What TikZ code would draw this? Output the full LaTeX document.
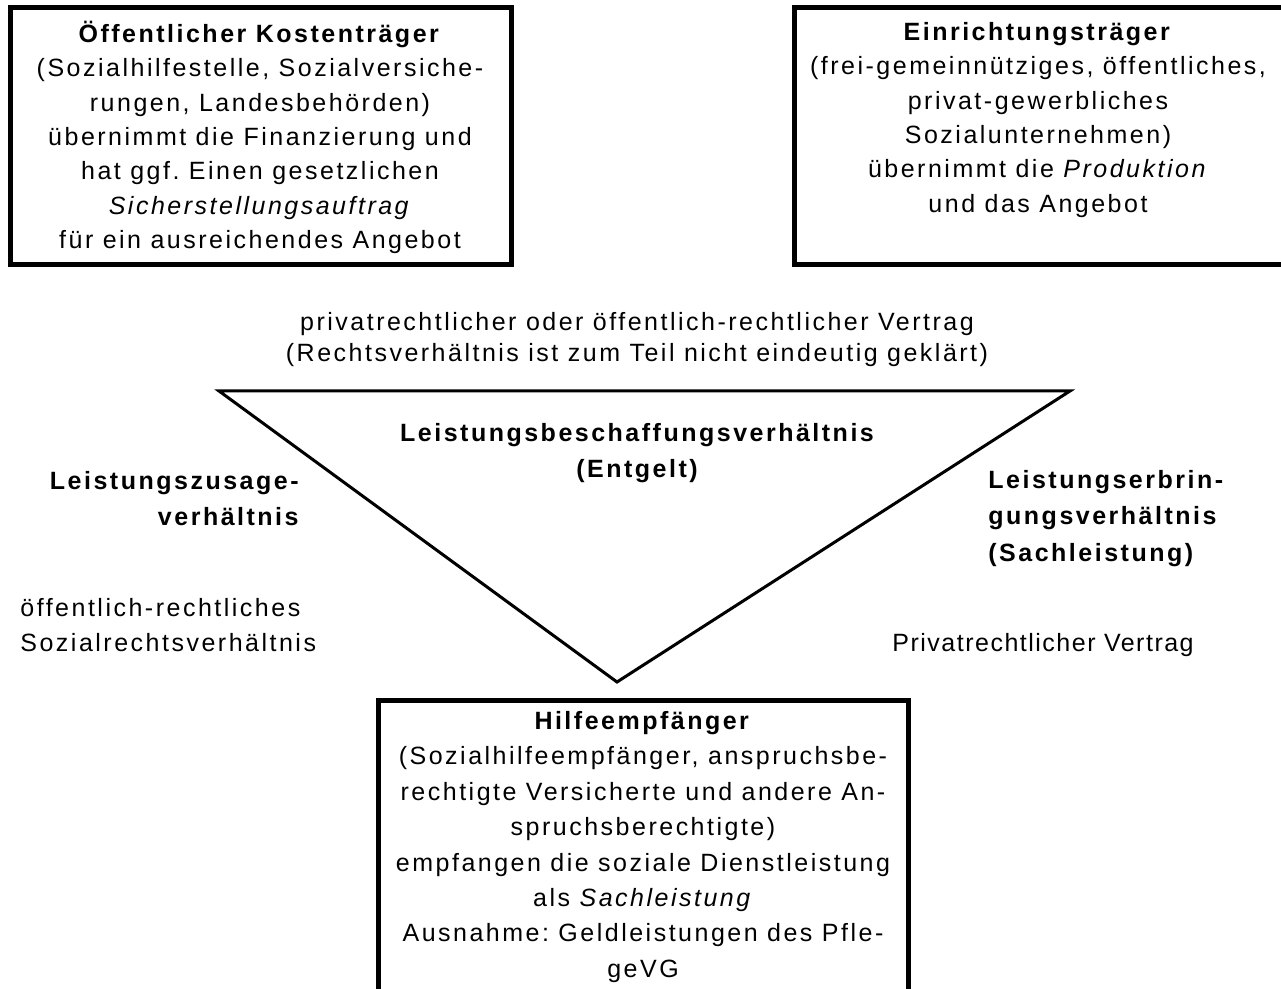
\documentclass[tikz,border=0pt]{standalone}
\usepackage{fontspec}
\setmainfont[LetterSpace=10]{Liberation Sans}
\newfontfamily\narrowfont[LetterSpace=6]{Liberation Sans}
\newcommand\topstrut{\rule{0pt}{12pt}}
\frenchspacing
\tikzset{
  boxline/.style={line width=2.5pt, line join=miter},
  triline/.style={line width=1.5pt, line join=miter},
  boxtxt/.style={inner sep=0pt, align=center, font=\frenchspacing\fontsize{12.5}{17.2}\selectfont},
  boxtxtb/.style={inner sep=0pt, align=center, font=\frenchspacing\fontsize{12.5}{17.7}\selectfont},
  midtxt/.style={inner sep=0pt, font=\frenchspacing\fontsize{12.5}{15.5}\selectfont},
  boldlab/.style={inner sep=0pt, font=\bfseries\fontsize{12.5}{18.25}\selectfont},
  plainlab/.style={inner sep=0pt, font=\fontsize{12.5}{17.5}\selectfont},
}
\begin{document}
\begin{tikzpicture}[x=0.5pt,y=-0.5pt]
\useasboundingbox (0,0) rectangle (1281,989);
% boxes
\draw[boxline] (10,7.5) rectangle (511,264.5);
\draw[boxline] (794,7.5) rectangle (1290,264.5);
\draw[boxline] (378.5,1000) -- (378.5,700.5) -- (908,700.5) -- (908,1000);
% triangle
\coordinate (tl) at (219,391);
\coordinate (tr) at (1070,391);
\coordinate (ap) at (617,682);
\draw[triline] (tl) -- (tr) -- (ap) -- cycle;
% box texts
\node[boxtxt, anchor=north] (kost) at (260,18) {\topstrut\textbf{Öffentlicher Kostenträger}\\
(Sozialhilfestelle, Sozialversiche-\\
rungen, Landesbehörden)\\
übernimmt die Finanzierung und\\
hat ggf. Einen gesetzlichen\\
\textit{Sicherstellungsauftrag}\\
für ein ausreichendes Angebot};
\node[boxtxt, anchor=north] (einr) at (1038,16) {\topstrut\textbf{Einrichtungsträger}\\
(frei-gemeinnütziges, öffentliches,\\
privat-gewerbliches\\
Sozialunternehmen)\\
übernimmt die \textit{Produktion}\\
und das Angebot};
\node[boxtxtb, anchor=north] (hilf) at (643,705) {\topstrut\textbf{Hilfeempfänger}\\
(Sozialhilfeempfänger, anspruchsbe-\\
rechtigte Versicherte und andere An-\\
spruchsberechtigte)\\
empfangen die soziale Dienstleistung\\
als \textit{Sachleistung}\\
Ausnahme: Geldleistungen des Pfle-\\
geVG};
% middle texts
\node[midtxt, align=center, anchor=north] (vertrag) at (637,306) {\topstrut privatrechtlicher oder öffentlich-rechtlicher Vertrag\\
(Rechtsverhältnis ist zum Teil nicht eindeutig geklärt)};
\node[boldlab, align=center, anchor=north] (beschaff) at (637,417) {\topstrut Leistungsbeschaffungsverhältnis\\(Entgelt)};
\node[boldlab, align=right, anchor=north east] (zusage) at (299,465) {\topstrut Leistungszusage-\\verhältnis};
\node[plainlab, align=left, anchor=north west] (sozrecht) at (20,592) {\topstrut öffentlich-rechtliches\\Sozialrechtsverhältnis};
\begin{scope}
\clip (960,440) rectangle (1281,567);
\node[boldlab, align=left, anchor=north west] (erbring) at (988,464) {\topstrut Leistungserbrin-\\gungsverhältnis\\(Sachleistung)};
\end{scope}
\node[plainlab, anchor=base west, font=\narrowfont\fontsize{12.5}{17.5}\selectfont] (privat) at (892,652) {Privatrechtlicher Vertrag};
\end{tikzpicture}
\end{document}
